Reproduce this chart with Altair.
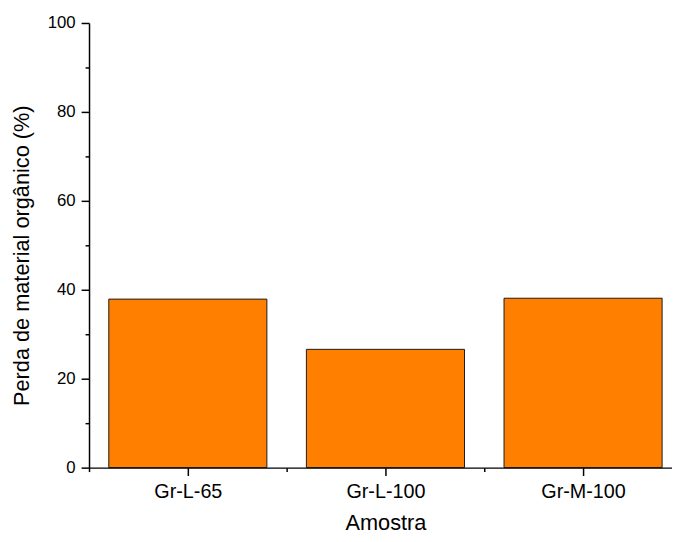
import altair as alt
import pandas as pd

samples = ["Gr-L-65", "Gr-L-100", "Gr-M-100"]
loss = [37.9, 26.6, 38.1]
y_major = [0, 20, 40, 60, 80, 100]
y_minor = [10, 30, 50, 70, 90]

df = pd.DataFrame({"Amostra": samples, "Perda": loss, "idx": list(range(len(samples)))})
FONT = "Liberation Sans"

label_expr = "[" + ",".join("'" + s + "'" for s in samples) + "][datum.value]"

xscale = alt.Scale(domain=[-0.5, 2.45], nice=False, zero=False, padding=0)
yscale = alt.Scale(domain=[0, 100], nice=False, padding=0)

base = alt.Chart(df).transform_calculate(
    x0="datum.idx - 0.4", x1="datum.idx + 0.4"
)

main = base.mark_bar(
    color="#FF8000", stroke="#1a1a1a", strokeWidth=1, orient="vertical"
).encode(
    x=alt.X("x0:Q", scale=xscale,
            axis=alt.Axis(orient="bottom", title="Amostra", values=[0, 1, 2],
                          labelExpr=label_expr,
                          tickSize=8, labelPadding=6, labelFontSize=20,
                          titleFontSize=22, labelAngle=0, titleX=300, titleY=56,
                          titleBaseline="middle", titleAlign="center", zindex=1)),
    x2="x1:Q",
    y=alt.Y("Perda:Q", scale=yscale,
            axis=alt.Axis(orient="left", values=y_major,
                          title="Perda de material orgânico (%)",
                          tickSize=8, labelPadding=6, labelFontSize=17,
                          titleFontSize=22, titleX=-68, titleY=235,
                          titleBaseline="middle", titleAlign="center", zindex=1)),
    y2=alt.datum(0),
)

minor = base.mark_bar(opacity=0, orient="vertical").encode(
    x=alt.X("x0:Q", scale=xscale,
            axis=alt.Axis(orient="bottom", title="", labels=False, domain=False,
                          values=[-0.5, 0.5, 1.5], tickSize=4, zindex=1)),
    x2="x1:Q",
    y=alt.Y("Perda:Q", scale=yscale,
            axis=alt.Axis(orient="left", title="", labels=False, domain=False,
                          values=y_minor, tickSize=4, zindex=1)),
    y2=alt.datum(0),
)

chart = alt.layer(main, minor).resolve_axis(
    x="independent", y="independent"
).properties(
    width=590, height=450,
    autosize=alt.AutoSizeParams(type="none"),
    padding={"left": 82, "top": 12, "right": 0, "bottom": 64},
).configure_view(strokeWidth=0).configure_axis(
    labelFont=FONT, titleFont=FONT, labelColor="black", titleColor="black",
    domainColor="black", tickColor="black", domainWidth=1.5, tickWidth=1.5,
    grid=False, titleFontWeight="normal"
)

chart.save("out.html", embed_options={"renderer": "svg", "actions": False})
